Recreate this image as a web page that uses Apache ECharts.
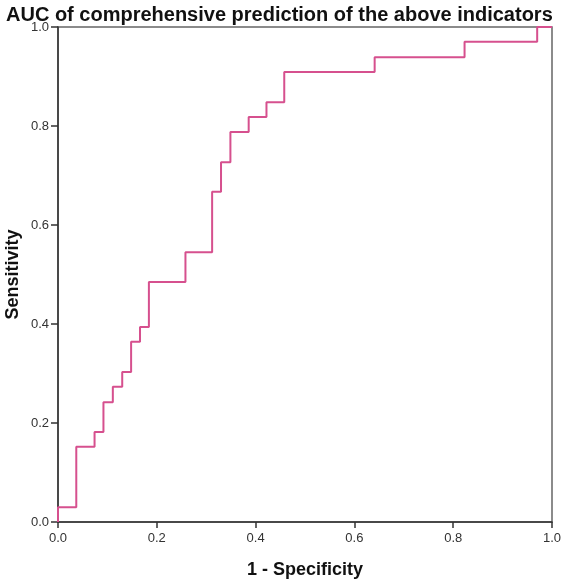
<!DOCTYPE html>
<html>
<head>
<meta charset="utf-8">
<script src="https://cdn.jsdelivr.net/npm/echarts@6/dist/echarts.min.js"></script>
<style>
  html, body { margin: 0; padding: 0; background: #fff; }
  #chart { width: 567px; height: 581px; }
</style>
</head>
<body>
<div id="chart"></div>
<script>
// ROC curve: at each false positive rate the sensitivity rises to the given value
var fpr = [0, 0, 0.037, 0.074, 0.092, 0.111, 0.13, 0.148, 0.166, 0.184, 0.258, 0.312, 0.33, 0.349, 0.386, 0.422, 0.458, 0.641, 0.823, 0.97, 1.0];
var tpr = [0, 0.030, 0.152, 0.182, 0.242, 0.273, 0.303, 0.364, 0.394, 0.485, 0.545, 0.667, 0.727, 0.788, 0.818, 0.848, 0.909, 0.939, 0.970, 1.0, 1.0];
var tickLabels = ['0.0', '0.2', '0.4', '0.6', '0.8', '1.0'];

var rocData = fpr.map(function(x, i) { return [x, tpr[i]]; });

var chart = echarts.init(document.getElementById('chart'));

var axisLabelFmt = function(v) {
    return tickLabels[Math.round(v * 5)];
};

var option = {
    animation: false,
    title: {
        text: 'AUC of comprehensive prediction of the above indicators',
        left: 1,
        top: 0,
        textStyle: {
            fontFamily: 'Liberation Sans, Arial, sans-serif',
            fontSize: 20,
            fontWeight: 'bold',
            color: '#111'
        }
    },
    grid: {
        left: 58,
        right: 15,
        top: 27,
        bottom: 59,
        containLabel: false,
        outerBoundsMode: 'none',
        show: true,
        borderColor: '#666',
        borderWidth: 1.5
    },
    xAxis: {
        type: 'value',
        min: 0,
        max: 1,
        interval: 0.2,
        name: '1 - Specificity',
        nameLocation: 'middle',
        nameGap: 39,
        nameMoveOverlap: false,
        nameTextStyle: {
            fontFamily: 'Liberation Sans, Arial, sans-serif',
            fontSize: 18,
            fontWeight: 'bold',
            color: '#111'
        },
        axisLine: { lineStyle: { color: '#333', width: 1.5 } },
        axisTick: { show: true, length: 6, lineStyle: { color: '#333', width: 1.5 } },
        axisLabel: {
            formatter: axisLabelFmt,
            fontFamily: 'Liberation Sans, Arial, sans-serif',
            fontSize: 13,
            color: '#333',
            margin: 10
        },
        splitLine: { show: false }
    },
    yAxis: {
        type: 'value',
        min: 0,
        max: 1,
        interval: 0.2,
        name: 'Sensitivity',
        nameLocation: 'middle',
        nameGap: 36,
        nameMoveOverlap: false,
        nameTextStyle: {
            fontFamily: 'Liberation Sans, Arial, sans-serif',
            fontSize: 18,
            fontWeight: 'bold',
            color: '#111'
        },
        axisLine: { show: true, lineStyle: { color: '#333', width: 1.5 } },
        axisTick: { show: true, length: 7, lineStyle: { color: '#333', width: 1.5 } },
        axisLabel: {
            formatter: axisLabelFmt,
            fontFamily: 'Liberation Sans, Arial, sans-serif',
            fontSize: 13,
            color: '#333',
            margin: 9
        },
        splitLine: { show: false }
    },
    series: [{
        type: 'line',
        step: 'end',
        data: rocData,
        showSymbol: false,
        symbol: 'none',
        lineStyle: { color: '#d6508e', width: 2 }
    }]
};

chart.setOption(option);
</script>
</body>
</html>
